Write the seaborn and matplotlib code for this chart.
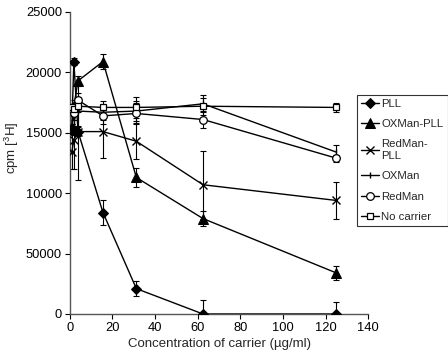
import numpy as np
import matplotlib
matplotlib.use("Agg")
import matplotlib.pyplot as plt
import seaborn as sns

# ================= DADOS =================
conc = [0.98, 1.95, 3.9, 15.6, 31.25, 62.5, 125]

pll = [15400, 20900, 15100, 8400, 2100, 0, 0]
pll_err = [300, 300, 400, 1050, 650, 1200, 1000]

oxman_pll = [15300, 17200, 19300, 20900, 11300, 7900, 3400]
oxman_pll_err = [400, 500, 400, 600, 750, 600, 550]

redman_pll = [13400, 14400, 15100, 15100, 14300, 10700, 9400]
redman_pll_err = [1400, 2400, 4000, 2200, 1500, 2800, 1500]

oxman = [16900, 16000, 16800, 16700, 16800, 17400, 13400]
oxman_err = [500, 1000, 1200, 600, 800, 700, 600]

redman = [17000, 16600, 17700, 16400, 16600, 16100, 12900]
redman_err = [400, 500, 600, 700, 900, 700, 300]

no_carrier = [17100, 17000, 17200, 17100, 17100, 17200, 17100]
no_carrier_err = [300, 400, 500, 550, 900, 700, 400]

y_ticks = [0, 5000, 10000, 15000, 20000, 25000]
y_tick_labels = ["0", "50000", "10000", "15000", "20000", "25000"]
x_ticks = [0, 20, 40, 60, 80, 100, 120, 140]

# ================= ESTILO =================
sns.set_style("ticks")
plt.rcParams["font.family"] = ["Liberation Sans", "DejaVu Sans"]
plt.rcParams["mathtext.fontset"] = "custom"
plt.rcParams["mathtext.rm"] = "Liberation Sans"
plt.rcParams["font.size"] = 8.5

fig = plt.figure(figsize=(4.48, 3.52), dpi=100)
ax = fig.add_axes([69.7 / 448, 1 - 314 / 352, (368.3 - 69.7) / 448, (314 - 12) / 352])

series = [
    ("PLL", pll, pll_err, dict(marker="D", markersize=5.2, markerfacecolor="black", markeredgecolor="black")),
    ("OXMan-PLL", oxman_pll, oxman_pll_err, dict(marker="^", markersize=6.5, markerfacecolor="black", markeredgecolor="black")),
    ("RedMan-\nPLL", redman_pll, redman_pll_err, dict(marker="x", markersize=6, markeredgewidth=1.0, markeredgecolor="black")),
    ("OXMan", oxman, oxman_err, dict(marker="|", markersize=4.5, markeredgewidth=1.0, markeredgecolor="black")),
    ("RedMan", redman, redman_err, dict(marker="o", markersize=5.5, markerfacecolor="white", markeredgecolor="black", markeredgewidth=0.9)),
    ("No carrier", no_carrier, no_carrier_err, dict(marker="s", markersize=5, markerfacecolor="white", markeredgecolor="black", markeredgewidth=0.9)),
]

for nome, valores, erros, estilo in series:
    ax.errorbar(conc, valores, yerr=erros, fmt="none", ecolor="black",
                elinewidth=0.8, capsize=2.5, capthick=0.8, zorder=2)
    sns.lineplot(x=conc, y=valores, ax=ax, color="black", linewidth=1.0,
                 label=nome, zorder=3, **estilo)

ax.set_xlim(0, 140)
ax.set_ylim(0, 25000)
ax.set_xticks(x_ticks)
ax.set_yticks(y_ticks)
ax.set_yticklabels(y_tick_labels)
ax.set_xlabel("Concentration of carrier (\u00b5g/ml)", fontsize=9.5, labelpad=3)
ax.set_ylabel("cpm [$^3$H]", fontsize=9.5)
ax.yaxis.set_label_coords(-0.163, 0.55)

for lado in ["top", "right"]:
    ax.spines[lado].set_visible(False)
for lado in ["left", "bottom"]:
    ax.spines[lado].set_color("#555555")
    ax.spines[lado].set_linewidth(1.0)
ax.tick_params(direction="out", length=3.5, width=0.8, colors="black", labelsize=9.3, pad=2)

leg = ax.legend(loc="upper left", bbox_to_anchor=(357 / 448, 1 - 95 / 352),
                bbox_transform=fig.transFigure, frameon=True, fancybox=False,
                edgecolor="black", fontsize=8.2, handlelength=1.6, handletextpad=0.2,
                labelspacing=0.9, borderpad=0.35, borderaxespad=0)
leg.get_frame().set_linewidth(0.8)

fig.savefig("out.png", dpi=100)
